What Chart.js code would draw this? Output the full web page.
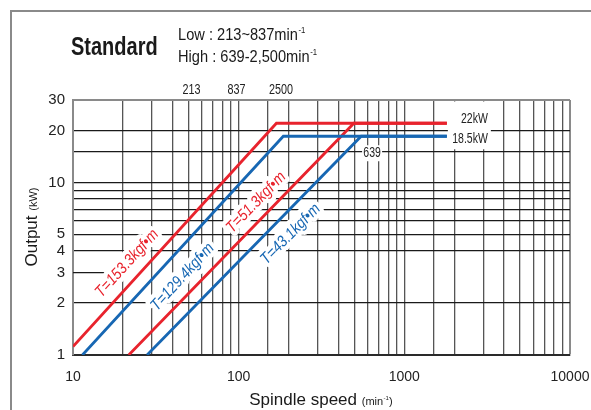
<!DOCTYPE html>
<html>
<head>
<meta charset="utf-8">
<script src="https://cdn.jsdelivr.net/npm/chart.js@4.4.1/dist/chart.umd.min.js"></script>
<style>
  html, body { margin: 0; padding: 0; background: #fff; }
  #wrap { width: 591px; height: 410px; }
</style>
</head>
<body>
<div id="wrap"><canvas id="outputChart" width="591" height="410"></canvas></div>
<script>
// spindle speed (min-1) and output (kW)
const red1Speed = [10, 169, 1806];
const red1Power = [1.12, 22, 22];
const blue1Speed = [11.4, 186, 1806];
const blue1Power = [1, 18.5, 18.5];
const red2Speed = [21.7, 496, 1806];
const red2Power = [1, 22, 22];
const blue2Speed = [28, 549, 1806];
const blue2Power = [1, 18.5, 18.5];

const torqueLabels = ["T=153.3kgf\u2022m", "T=129.4kgf\u2022m", "T=51.3kgf\u2022m", "T=43.1kgf\u2022m"];
const torqueLabelAt = [25, 37, 148, 172];   // speed where each label sits along its line

const xTickLabels = [10, 100, 1000, 10000];
const yTickLabels = [1, 2, 3, 4, 5, 10, 20, 30];
const topMarkText = ["213", "837", "2500"];
const topMarkAt = [52, 97, 180];
const powerText = ["22kW", "18.5kW"];
const speedMarkText = "639";
const speedMarkAt = 639;

const RED = "#e8232d";
const BLUE = "#1767b3";
const SANS = "'Liberation Sans', Arial, sans-serif";

function toPoints(xs, ys) {
    return xs.map(function (x, i) { return { x: x, y: ys[i] }; });
}

function lineSet(xs, ys, color) {
    return {
        data: toPoints(xs, ys),
        borderColor: color,
        borderWidth: 2.8,
        pointRadius: 0,
        tension: 0,
        fill: false
    };
}

// condensed look: squeeze the text horizontally around its anchor
function squeezed(ctx, txt, x, y, font, sq, mode) {
    ctx.save();
    ctx.translate(x, y);
    ctx.scale(sq, 1);
    ctx.font = font;
    if (mode === "stroke") ctx.strokeText(txt, 0, 0);
    else ctx.fillText(txt, 0, 0);
    let w = ctx.measureText(txt).width * sq;
    ctx.restore();
    return w;
}

// text with a small raised "-1"
function drawSup(ctx, main, sup, x, y, size, sq) {
    let w = squeezed(ctx, main, x, y, size + "px " + SANS, sq);
    let w2 = squeezed(ctx, sup, x + w + 0.5, y - size * 0.42, Math.round(size * 0.55) + "px " + SANS, sq);
    return w + w2 + 0.5;
}

function spot(chart, dsIndex, at) {
    let meta = chart.getDatasetMeta(dsIndex);
    let p0 = meta.data[0], p1 = meta.data[1];
    let px = chart.scales.x.getPixelForValue(at);
    let t = (px - p0.x) / (p1.x - p0.x);
    return { x: px, y: p0.y + t * (p1.y - p0.y), ang: Math.atan2(p1.y - p0.y, p1.x - p0.x) };
}

const labelOffset = [16, -21, 15, -18];   // + = above the line, - = below

function torqueText(ctx, chart, i, mode) {
    let s = spot(chart, i, torqueLabelAt[i]);
    let d = labelOffset[i];
    ctx.save();
    ctx.translate(s.x + d * Math.sin(s.ang), s.y - d * Math.cos(s.ang));
    ctx.rotate(s.ang);
    ctx.textAlign = "center";
    ctx.textBaseline = "middle";
    ctx.fillStyle = i % 2 === 0 ? RED : BLUE;
    squeezed(ctx, torqueLabels[i], 0, 0, "italic 16px " + SANS, 0.86, mode);
    ctx.restore();
}

const decorPlugin = {
    id: "decor",
    beforeDraw(chart) {
        let ctx = chart.ctx;
        ctx.save();
        ctx.fillStyle = "#fff";
        ctx.fillRect(0, 0, chart.width, chart.height);
        // outer frame
        ctx.strokeStyle = "#8a8a8a";
        ctx.lineWidth = 2;
        ctx.beginPath();
        ctx.moveTo(11, chart.height);
        ctx.lineTo(11, 11);
        ctx.lineTo(chart.width, 11);
        ctx.stroke();
        // heading
        ctx.fillStyle = "#1a1a1a";
        ctx.textAlign = "left";
        ctx.textBaseline = "alphabetic";
        squeezed(ctx, "Standard", 71, 55, "bold 25px " + SANS, 0.8);
        drawSup(ctx, "Low : 213~837min", "-1", 178, 40, 17, 0.86);
        drawSup(ctx, "High : 639-2,500min", "-1", 178, 62, 17, 0.86);
        ctx.restore();
    },
    beforeDatasetsDraw(chart) {
        let ctx = chart.ctx;
        let x = chart.scales.x, y = chart.scales.y, area = chart.chartArea;
        ctx.save();
        // short gridline at 3 kW
        ctx.strokeStyle = "#1a1a1a";
        ctx.lineWidth = 1.2;
        ctx.beginPath();
        ctx.moveTo(area.left, y.getPixelForValue(3));
        ctx.lineTo(x.getPixelForValue(19), y.getPixelForValue(3));
        ctx.stroke();
        // white halos behind the torque labels
        ctx.strokeStyle = "#fff";
        ctx.lineWidth = 9;
        ctx.lineJoin = "round";
        for (let i = 0; i < torqueLabels.length; i++) torqueText(ctx, chart, i, "stroke");
        // white box behind the power labels
        let endX = x.getPixelForValue(red1Speed[red1Speed.length - 1]);
        let yLow = y.getPixelForValue(blue1Power[blue1Power.length - 1]);
        ctx.fillStyle = "#fff";
        ctx.fillRect(endX + 1, area.top + 1.5, 43, yLow + 13 - area.top - 1.5);
        // box behind 639
        let mx = x.getPixelForValue(speedMarkAt);
        ctx.fillRect(mx - 10, yLow + 9, 20, 16);
        ctx.restore();
    },
    afterDatasetsDraw(chart) {
        let ctx = chart.ctx;
        let x = chart.scales.x, y = chart.scales.y, area = chart.chartArea;
        ctx.save();
        for (let i = 0; i < torqueLabels.length; i++) torqueText(ctx, chart, i, "fill");
        ctx.fillStyle = "#222";
        ctx.textBaseline = "middle";
        ctx.textAlign = "right";
        let endX = x.getPixelForValue(red1Speed[red1Speed.length - 1]);
        squeezed(ctx, powerText[0], endX + 41, y.getPixelForValue(22) - 4, "15px " + SANS, 0.7);
        squeezed(ctx, powerText[1], endX + 41, y.getPixelForValue(18.5) + 3, "15px " + SANS, 0.7);
        ctx.textAlign = "center";
        squeezed(ctx, speedMarkText, x.getPixelForValue(speedMarkAt), y.getPixelForValue(18.5) + 17, "15px " + SANS, 0.7);
        // marks above the plot
        topMarkText.forEach(function (txt, i) {
            squeezed(ctx, txt, x.getPixelForValue(topMarkAt[i]), area.top - 10, "15px " + SANS, 0.72);
        });
        ctx.restore();
    },
    afterDraw(chart) {
        let ctx = chart.ctx, area = chart.chartArea;
        ctx.save();
        ctx.fillStyle = "#1a1a1a";
        ctx.textAlign = "left";
        ctx.textBaseline = "alphabetic";
        // x title
        ctx.font = "17px " + SANS;
        let w1 = ctx.measureText("Spindle speed ").width;
        ctx.font = "11px " + SANS;
        let w2 = ctx.measureText("(min").width;
        let w3 = ctx.measureText(")").width;
        let total = w1 + w2 + 7 + w3;
        let sx = (area.left + area.right) / 2 - total / 2;
        ctx.font = "17px " + SANS;
        ctx.fillText("Spindle speed ", sx, 405);
        let sw = drawSup(ctx, "(min", "-1", sx + w1, 405, 11, 1);
        ctx.font = "11px " + SANS;
        ctx.fillText(")", sx + w1 + sw, 405);
        // y title
        ctx.translate(37, 227);
        ctx.rotate(-Math.PI / 2);
        ctx.font = "17px " + SANS;
        let o1 = ctx.measureText("Output ").width;
        ctx.font = "11px " + SANS;
        let o2 = ctx.measureText("(kW)").width;
        let start = -(o1 + o2) / 2;
        ctx.font = "17px " + SANS;
        ctx.fillText("Output ", start, 0);
        ctx.font = "11px " + SANS;
        ctx.fillText("(kW)", start + o1, 0);
        ctx.restore();
    }
};

let ctx = document.getElementById("outputChart").getContext("2d");
new Chart(ctx, {
    type: "line",
    data: {
        datasets: [
            lineSet(red1Speed, red1Power, RED),
            lineSet(blue1Speed, blue1Power, BLUE),
            lineSet(red2Speed, red2Power, RED),
            lineSet(blue2Speed, blue2Power, BLUE)
        ]
    },
    options: {
        responsive: false,
        animation: false,
        devicePixelRatio: 1,
        layout: { padding: { left: 0, top: 100, right: 21, bottom: 0 } },
        plugins: { legend: { display: false }, tooltip: { enabled: false } },
        scales: {
            x: {
                type: "logarithmic",
                min: 10,
                max: 10000,
                afterFit: function (s) { s.height = 55; s.paddingRight = 0; s.paddingLeft = 0; },
                border: { color: "#2a2a2a", width: 2 },
                grid: {
                    drawTicks: false,
                    color: function (c) { return c.tick && c.tick.value === 10000 ? "#8a8a8a" : "#555"; },
                    lineWidth: function (c) { return c.tick && c.tick.value === 10000 ? 2 : 1.3; }
                },
                ticks: {
                    autoSkip: false,
                    maxRotation: 0,
                    padding: 14,
                    color: "#222",
                    font: { family: SANS, size: 14 },
                    callback: function (v) { return xTickLabels.includes(v) ? String(v) : ""; }
                }
            },
            y: {
                type: "logarithmic",
                min: 1,
                max: 30,
                afterFit: function (s) { s.width = 73; },
                border: { color: "#8a8a8a", width: 2 },
                grid: {
                    drawTicks: false,
                    color: function (c) {
                        if (!c.tick) return "#1a1a1a";
                        if (c.tick.value === 30) return "#8a8a8a";
                        if (c.tick.value === 3) return "rgba(0,0,0,0)";
                        return "#1a1a1a";
                    },
                    lineWidth: function (c) { return c.tick && c.tick.value === 30 ? 2 : 1.2; }
                },
                ticks: {
                    autoSkip: false,
                    padding: 8,
                    color: "#222",
                    font: { family: SANS, size: 15 },
                    callback: function (v) { return yTickLabels.includes(v) ? String(v) : ""; }
                }
            }
        }
    },
    plugins: [decorPlugin]
});
</script>
</body>
</html>
